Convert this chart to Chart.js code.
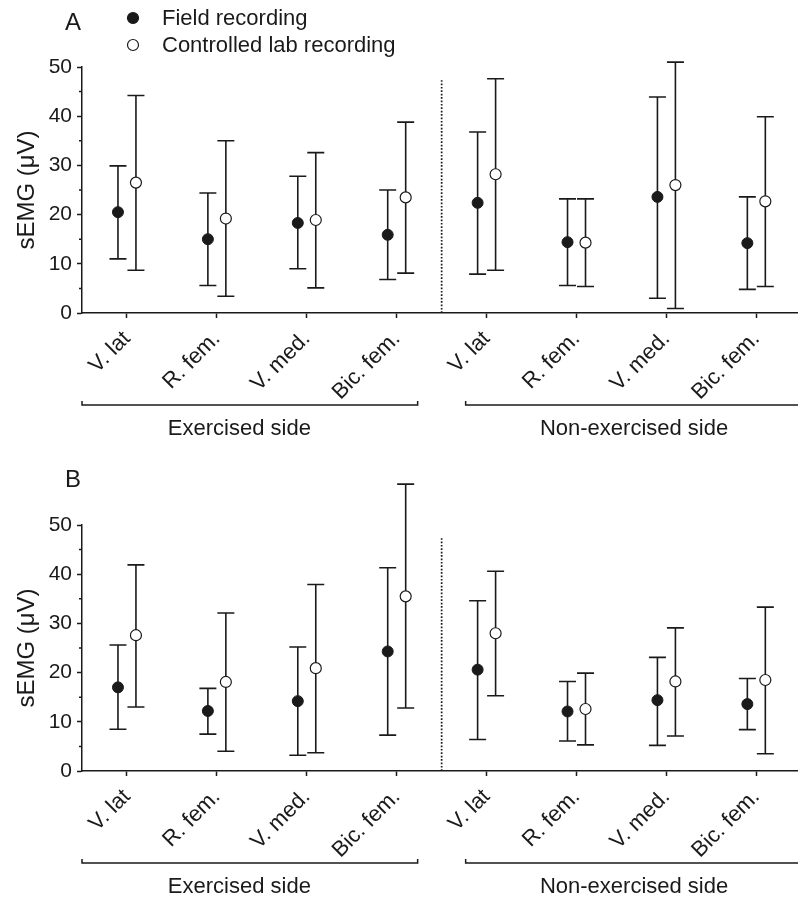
<!DOCTYPE html>
<html>
<head>
<meta charset="utf-8">
<script src="https://cdn.jsdelivr.net/npm/chart.js@4.4.1/dist/chart.umd.min.js"></script>
<style>
html, body { margin: 0; padding: 0; background: #fff; overflow: hidden; width: 798px; height: 897px; }
.panel { position: absolute; left: 0; width: 808px; height: 440px; }
#panelA { top: 0; }
#panelB { top: 458px; }
</style>
</head>
<body>
<div class="panel" id="panelA"><canvas id="chartA"></canvas></div>
<div class="panel" id="panelB"><canvas id="chartB"></canvas></div>
<script>
let categories = ["V. lat", "R. fem.", "V. med.", "Bic. fem.", "V. lat", "R. fem.", "V. med.", "Bic. fem."];
let sides = ["Exercised side", "Non-exercised side"];
let seriesNames = ["Field recording", "Controlled lab recording"];
let yTicks = [0, 10, 20, 30, 40, 50];

// panel A: mean, top and bottom of the error bar
let fieldA = [20.5, 15.0, 18.3, 15.9, 22.4, 14.4, 23.6, 14.2];
let fieldAHigh = [29.9, 24.4, 27.8, 25.0, 36.8, 23.2, 43.9, 23.6];
let fieldALow = [11.0, 5.6, 9.0, 6.8, 7.9, 5.6, 3.0, 4.8];
let labA = [26.5, 19.2, 18.9, 23.5, 28.2, 14.3, 26.0, 22.7];
let labAHigh = [44.2, 35.0, 32.6, 38.8, 47.6, 23.2, 51.0, 39.9];
let labALow = [8.7, 3.4, 5.1, 8.1, 8.7, 5.4, 0.9, 5.4];

// panel B
let fieldB = [17.0, 12.2, 14.2, 24.3, 20.6, 12.1, 14.4, 13.6];
let fieldBHigh = [25.6, 16.8, 25.2, 41.3, 34.6, 18.2, 23.1, 18.8];
let fieldBLow = [8.5, 7.5, 3.2, 7.3, 6.4, 6.1, 5.2, 8.4];
let labB = [27.6, 18.1, 20.9, 35.5, 28.0, 12.6, 18.2, 18.5];
let labBHigh = [41.9, 32.1, 37.9, 58.3, 40.6, 19.9, 29.1, 33.3];
let labBLow = [13.0, 4.0, 3.7, 12.8, 15.3, 5.3, 7.1, 3.5];

let ink = "#1a1a1a";
let fontFamily = "'Liberation Sans', Arial, sans-serif";

let errorBarPlugin = {
    id: "errorBars",
    beforeDatasetsDraw(chart) {
        let ctx = chart.ctx;
        let xScale = chart.scales.x;
        let yScale = chart.scales.y;
        ctx.save();
        ctx.strokeStyle = ink;
        ctx.lineWidth = 1.6;
        chart.data.datasets.forEach((ds) => {
            ds.data.forEach((p, i) => {
                let px = xScale.getPixelForValue(p.x);
                let top = yScale.getPixelForValue(ds.high[i]);
                let bottom = yScale.getPixelForValue(ds.low[i]);
                ctx.beginPath();
                ctx.moveTo(px, top);
                ctx.lineTo(px, bottom);
                ctx.moveTo(px - 8.5, top);
                ctx.lineTo(px + 8.5, top);
                ctx.moveTo(px - 8.5, bottom);
                ctx.lineTo(px + 8.5, bottom);
                ctx.stroke();
            });
        });
        ctx.restore();
    }
};

let decorPlugin = {
    id: "decor",
    afterDraw(chart, args, opts) {
        let ctx = chart.ctx;
        let area = chart.chartArea;
        let xScale = chart.scales.x;
        let yScale = chart.scales.y;
        ctx.save();
        ctx.strokeStyle = ink;
        ctx.fillStyle = ink;

        // minor ticks between the labelled ones
        ctx.lineWidth = 1.5;
        ctx.beginPath();
        for (let i = 0; i < yTicks.length - 1; i++) {
            let py = yScale.getPixelForValue((yTicks[i] + yTicks[i + 1]) / 2);
            ctx.moveTo(area.left - 3, py);
            ctx.lineTo(area.left, py);
        }
        ctx.stroke();

        // dotted divider between the two sides
        let divX = xScale.getPixelForValue(3.5);
        ctx.save();
        ctx.lineWidth = 1.7;
        ctx.setLineDash([1.7, 1.7]);
        ctx.beginPath();
        ctx.moveTo(divX, yScale.getPixelForValue(0));
        ctx.lineTo(divX, yScale.getPixelForValue(47.3));
        ctx.stroke();
        ctx.restore();

        // brackets under the labels
        let by = area.bottom + 92;
        ctx.lineWidth = 1.5;
        ctx.beginPath();
        ctx.moveTo(area.left, by - 4);
        ctx.lineTo(area.left, by);
        ctx.lineTo(divX - 24, by);
        ctx.lineTo(divX - 24, by - 4);
        ctx.moveTo(divX + 24, by - 4);
        ctx.lineTo(divX + 24, by);
        ctx.lineTo(area.right + 10, by);
        ctx.stroke();

        ctx.font = "22px " + fontFamily;
        ctx.textAlign = "center";
        ctx.textBaseline = "middle";
        ctx.fillText(sides[0], xScale.getPixelForValue(1.25), area.bottom + 116);
        ctx.fillText(sides[1], xScale.getPixelForValue(5.64), area.bottom + 116);

        // panel letter
        ctx.font = "24px " + fontFamily;
        ctx.fillText(opts.letter, 73, opts.letterY);

        if (opts.legend) {
            ctx.textAlign = "left";
            ctx.font = "22px " + fontFamily;
            let rows = [18, 45];
            chart.data.datasets.forEach((ds, i) => {
                ctx.beginPath();
                ctx.arc(133, rows[i], 5.5, 0, Math.PI * 2);
                ctx.fillStyle = ds.pointBackgroundColor;
                ctx.fill();
                ctx.lineWidth = 1.2;
                ctx.strokeStyle = ink;
                ctx.stroke();
                ctx.fillStyle = ink;
                ctx.fillText(ds.label, 162, rows[i] + 1);
            });
        }
        ctx.restore();
    }
};

function makePoints(values, shift) {
    return values.map((v, i) => ({x: i + shift, y: v}));
}

function makePanel(canvasId, letter, letterY, showLegend, field, fieldHigh, fieldLow, lab, labHigh, labLow) {
    let ctx = document.getElementById(canvasId).getContext("2d");
    return new Chart(ctx, {
        type: "scatter",
        data: {
            datasets: [{
                label: seriesNames[0],
                data: makePoints(field, -0.1),
                high: fieldHigh,
                low: fieldLow,
                pointRadius: 5.5,
                pointHoverRadius: 5.5,
                pointBackgroundColor: ink,
                pointBorderColor: ink,
                pointBorderWidth: 1
            }, {
                label: seriesNames[1],
                data: makePoints(lab, 0.1),
                high: labHigh,
                low: labLow,
                pointRadius: 5.5,
                pointHoverRadius: 5.5,
                pointBackgroundColor: "#ffffff",
                pointBorderColor: ink,
                pointBorderWidth: 1.2
            }]
        },
        options: {
            responsive: true,
            maintainAspectRatio: false,
            animation: false,
            layout: {padding: {top: 67, right: 1, bottom: 0, left: 0}},
            plugins: {
                legend: {display: false},
                tooltip: {enabled: false},
                decor: {letter: letter, letterY: letterY, legend: showLegend}
            },
            scales: {
                x: {
                    type: "linear",
                    min: -0.5,
                    max: 7.5,
                    afterBuildTicks: (scale) => {
                        scale.ticks = categories.map((c, i) => ({value: i}));
                    },
                    afterFit: (scale) => {
                        scale.height = 127;
                    },
                    ticks: {
                        autoSkip: false,
                        minRotation: 45,
                        maxRotation: 45,
                        padding: 8,
                        color: ink,
                        font: {family: fontFamily, size: 22},
                        callback: (value) => categories[value]
                    },
                    grid: {drawOnChartArea: false, drawTicks: true, tickLength: 5, tickColor: ink, tickWidth: 1.5},
                    border: {color: ink, width: 1.5}
                },
                y: {
                    min: 0,
                    max: 50,
                    afterBuildTicks: (scale) => {
                        scale.ticks = yTicks.map((v) => ({value: v}));
                    },
                    afterFit: (scale) => {
                        scale.width = 82;
                    },
                    ticks: {
                        padding: 5,
                        color: ink,
                        font: {family: fontFamily, size: 21}
                    },
                    title: {
                        display: true,
                        text: "sEMG (μV)",
                        color: ink,
                        font: {family: fontFamily, size: 24},
                        padding: {top: 13, bottom: 0}
                    },
                    grid: {drawOnChartArea: false, drawTicks: true, tickLength: 5, tickColor: ink, tickWidth: 1.5},
                    border: {color: ink, width: 1.5}
                }
            }
        },
        plugins: [errorBarPlugin, decorPlugin]
    });
}

makePanel("chartA", "A", 23, true, fieldA, fieldAHigh, fieldALow, labA, labAHigh, labALow);
makePanel("chartB", "B", 22, false, fieldB, fieldBHigh, fieldBLow, labB, labBHigh, labBLow);
</script>
</body>
</html>
